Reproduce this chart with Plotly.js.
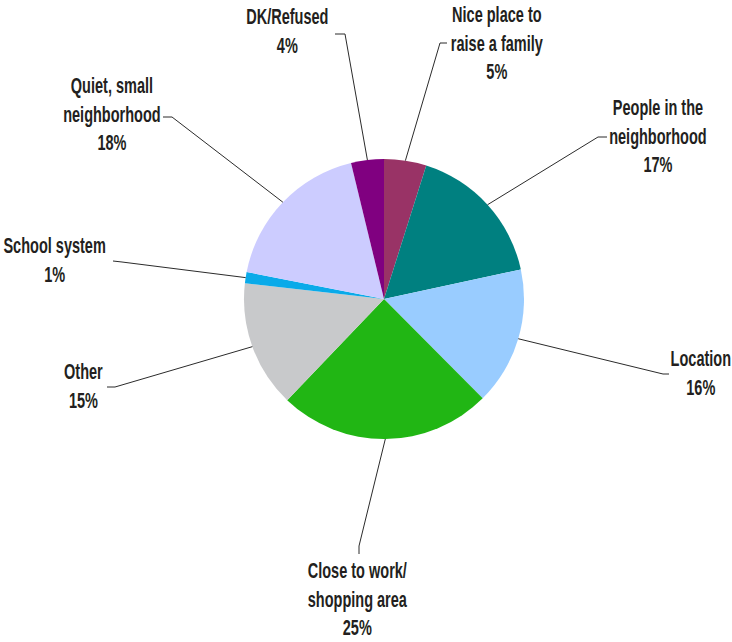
<!DOCTYPE html>
<html>
<head>
<meta charset="utf-8">
<script src="https://cdn.plot.ly/plotly-3.0.1.min.js"></script>
<style>html,body{margin:0;padding:0;background:#fff;}#chart{width:732px;height:642px;}</style>
</head>
<body>
<div id="chart"></div>
<script>
// ---- data ----
const categories = ["Nice place to<br>raise a family", "People in the<br>neighborhood", "Location", "Close to work/<br>shopping area", "Other", "School system", "Quiet, small<br>neighborhood", "DK/Refused"];
const values = [4.9, 16.8, 16.0, 24.7, 14.7, 1.3, 18.2, 3.8];
const pctLabels = ["5%", "17%", "16%", "25%", "15%", "1%", "18%", "4%"];
const colors = ["#993366", "#008080", "#99CCFF", "#21B614", "#C8C9CB", "#0AAAE9", "#CCCCFF", "#800080"];

// ---- layout (pixel positions of label blocks and leader-line elbows) ----
const W = 732, H = 642;
const CX = 384, CY = 299, R = 140;
const TEXT_SCALE_X = 0.66;
const labelPos = [[497,43],[658,136],[701,373],[357,599],[83,386],[54,260],[112,114],[287,31]];
const elbowPos = [[440,43],[598,137],[663,374],[359,546],[115,387],[122,262],[172,117],[345,34]];
const elbowEnd = [[447,43],[607,137],[669,374],[359,554],[107,387],[113,261],[163,117],[335,34]];

const px = x => x / W;
const py = y => 1 - y / H;

const total = values.reduce((a, b) => a + b, 0);
let cum = 0;
const shapes = [], annotations = [];
values.forEach((v, i) => {
  const mid = (cum + v / 2) / total * 2 * Math.PI;
  cum += v;
  const ex = CX + R * Math.sin(mid), ey = CY - R * Math.cos(mid);
  shapes.push({
    type: 'path', xref: 'paper', yref: 'paper',
    path: `M ${px(ex)} ${py(ey)} L ${px(elbowPos[i][0])} ${py(elbowPos[i][1])} L ${px(elbowEnd[i][0])} ${py(elbowEnd[i][1])}`,
    line: {color: '#2b2b2b', width: 1}
  });
  annotations.push({
    xref: 'paper', yref: 'paper', x: px(labelPos[i][0]), y: py(labelPos[i][1]),
    xanchor: 'center', yanchor: 'middle', showarrow: false, align: 'center',
    text: categories[i] + '<br>' + pctLabels[i]
  });
});

const trace = {
  type: 'pie', values: values, labels: categories.map(c => c.replace('<br>', ' ')),
  marker: {colors: colors, line: {width: 0}},
  sort: false, direction: 'clockwise', rotation: 0,
  textinfo: 'none', hoverinfo: 'none',
  domain: {x: [(CX - R) / W, (CX + R) / W], y: [1 - (CY + R) / H, 1 - (CY - R) / H]}
};

const layout = {
  width: W, height: H, margin: {l: 0, r: 0, t: 0, b: 0},
  showlegend: false, paper_bgcolor: '#fff',
  font: {family: '"Liberation Sans", Arial, sans-serif', size: 22, color: '#231F20', weight: 'bold'},
  shapes: shapes, annotations: annotations
};

Plotly.newPlot('chart', [trace], layout, {displayModeBar: false, staticPlot: true}).then(gd => {
  // condense label text horizontally around its own centre (reference uses a condensed face)
  gd.querySelectorAll('text.annotation-text').forEach(t => {
    const b = t.getBBox();
    const cx = b.x + b.width / 2;
    const prev = t.getAttribute('transform') || '';
    t.setAttribute('transform', `${prev} translate(${cx},0) scale(${TEXT_SCALE_X},1) translate(${-cx},0)`);
  });
});
</script>
</body>
</html>
